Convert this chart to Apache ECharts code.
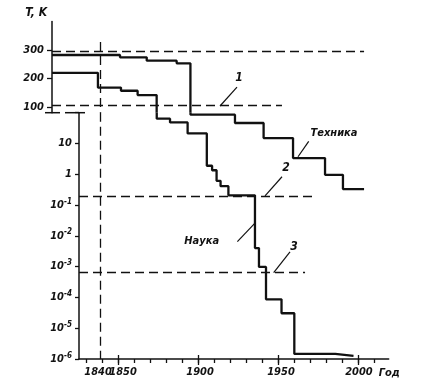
<!DOCTYPE html>
<html><head><meta charset="utf-8">
<script src="https://cdn.jsdelivr.net/npm/echarts@6/dist/echarts.min.js"></script>
<style>html,body{margin:0;padding:0;background:#fff}#c{width:424px;height:389px}</style>
</head><body><div id="c"></div>
<script>
// ---------- data ----------
// Наука (science): upper, linear part of the T axis (K)
const naukaUpperYears = [1808.8, 1837.5, 1851.9, 1862.3];
const naukaUpperT     = [220, 168, 157, 142];
const naukaBreakYear  = 1874.2;
// Наука: lower, logarithmic part
const naukaLowerYears = [1874.2, 1882.5, 1893.5, 1905.5, 1908.8, 1911.6, 1914.1, 1919.0, 1935.6, 1938.1, 1942.5, 1952.2, 1960.2, 1985.8];
const naukaLowerT     = [63.8, 48.4, 21.2, 1.89, 1.35, 0.615, 0.41, 0.207, 4.0e-3, 9.8e-4, 8.7e-5, 3.06e-5, 1.46e-6, 1.27e-6];
const naukaEndYear    = 1997.2;

// Техника (technology)
const techUpperYears = [1808.8, 1851.3, 1868.0, 1886.7];
const techUpperT     = [282.5, 274.4, 262.5, 253.3];
const techBreakYear  = 1895.3;
const techLowerYears = [1895.3, 1923.1, 1941.0, 1959.4, 1979.4, 1990.6];
const techLowerT     = [86, 46.2, 15.0, 3.36, 0.96, 0.33];
const techEndYear    = 2003.8;

// reference (dashed) levels
const level300 = 294, level1 = 105.3, level2 = 0.2, level3 = 6.4e-4;
const level300End = 2003.8, level1End = 1952.5, level2End = 1972.3, level3End = 1966.9;
const markYear = 1839;     // vertical dashed line near 1840
const markTop = 328;

// axis ticks / labels
const upperTicks = [100, 200, 300];
const xMinorTicks = [1830,1840,1850,1860,1870,1880,1890,1900,1910,1920,1930,1940,1950,1960,1970,1980,1990,2000,2010];
const xMajorTicks = [1850, 1900, 1950, 2000];
const xLabels = [1850, 1900, 1950, 2000];
const xExtraLabels = [1840];

// axis extents
const UPPER_MIN = 80, UPPER_MAX = 400;
const LOWER_MIN = 1e-6, LOWER_MAX = 100;
const X_UPPER_MIN = 1808.8, X_LOWER_MIN = 1825.6, X_MAX = 2019.2;

// ---------- build ----------
const zip = (a, b) => a.map((v, i) => [v, b[i]]);
const naukaUpper = zip(naukaUpperYears, naukaUpperT).concat([[naukaBreakYear, UPPER_MIN]]);
const naukaLower = [[naukaBreakYear, LOWER_MAX]].concat(zip(naukaLowerYears, naukaLowerT), [[naukaEndYear, naukaLowerT[naukaLowerT.length-1]]]);
const techUpper = zip(techUpperYears, techUpperT).concat([[techBreakYear, UPPER_MIN]]);
const techLower = [[techBreakYear, LOWER_MAX]].concat(zip(techLowerYears, techLowerT), [[techEndYear, techLowerT[techLowerT.length-1]]]);

const INK = '#111';
const FONT = '"Liberation Sans Narrow","DejaVu Sans Condensed","Liberation Sans",sans-serif';
const txt = {color: INK, fontStyle: 'italic', fontWeight: 'bold', fontFamily: FONT, fontSize: 11};
const dashed = {color: INK, width: 1.3, type: [9, 5]};
const leader = {color: INK, width: 1.2, type: 'solid'};
const stepLine = {color: INK, width: 2.3};

function ml(data) { return {silent: true, symbol: ['none','none'], label: {show: false}, data: data}; }
function lbl(text, coord, extra) {
  return Object.assign({coord: coord, symbol: 'circle', symbolSize: 0.1, itemStyle: {color: 'rgba(0,0,0,0)'},
    label: Object.assign({show: true, position: 'inside', formatter: text}, txt, extra || {})});
}

// small horizontal nudges of the year labels (px), as in the reference
const xShift = {1840: -4, 1850: 5, 1900: 2, 1950: 3, 2000: 1};
const xRich = {};
xLabels.concat(xExtraLabels).forEach(function (y) {
  const s = xShift[y] || 0;
  xRich['y' + y] = Object.assign({}, txt, {padding: s >= 0 ? [0, 0, 0, 2 * s] : [0, -2 * s, 0, 0]});
});
const yearFmt = function (v) { return '{y' + v + '|' + v + '}'; };

const option = {
  animation: false,
  backgroundColor: '#fff',
  grid: [
    {left: 52, right: 35.3, top: 21.5, height: 91.2},
    {left: 79, right: 35.3, top: 112.7, bottom: 30}
  ],
  xAxis: [
    {gridIndex: 0, type: 'value', min: X_UPPER_MIN, max: X_MAX, show: false},
    {gridIndex: 1, type: 'value', min: X_LOWER_MIN, max: X_MAX, position: 'bottom',
      axisLine: {show: true, lineStyle: {color: INK, width: 1.5}},
      axisTick: {show: true, customValues: xMinorTicks, length: 4, lineStyle: {color: INK, width: 1.3}},
      axisLabel: Object.assign({show: true, customValues: xLabels, margin: 8, hideOverlap: false,
        formatter: yearFmt, rich: xRich}, txt),
      splitLine: {show: false},
      name: 'Год', nameLocation: 'end', nameGap: -13,
      nameTextStyle: Object.assign({}, txt, {verticalAlign: 'top', align: 'left', padding: [9, 0, 0, 0]})
    },
    {gridIndex: 1, type: 'value', min: X_LOWER_MIN, max: X_MAX, position: 'bottom',
      axisLine: {show: false}, splitLine: {show: false},
      axisLabel: Object.assign({show: true, customValues: xExtraLabels, margin: 8,
        formatter: yearFmt, rich: xRich}, txt),
      axisTick: {show: true, customValues: xMajorTicks, inside: true, length: 4, lineStyle: {color: INK, width: 1.3}}},
    {gridIndex: 1, type: 'value', min: X_LOWER_MIN, max: X_MAX, position: 'bottom',
      axisLine: {show: false}, axisLabel: {show: false}, splitLine: {show: false},
      axisTick: {show: true, customValues: xMajorTicks, length: 6, lineStyle: {color: INK, width: 1.3}}}
  ],
  yAxis: [
    {gridIndex: 0, type: 'value', min: UPPER_MIN, max: UPPER_MAX,
      axisLine: {show: true, lineStyle: {color: INK, width: 1.5}},
      axisTick: {show: true, customValues: upperTicks, length: 5, lineStyle: {color: INK, width: 1.3}},
      axisLabel: Object.assign({customValues: upperTicks, margin: 8}, txt),
      splitLine: {show: false},
      name: 'T, K', nameLocation: 'end', nameGap: 3,
      nameTextStyle: Object.assign({}, txt, {fontSize: 12, align: 'right', verticalAlign: 'bottom', padding: [0, 5, 0, 0]})
    },
    {gridIndex: 1, type: 'log', logBase: 10, min: LOWER_MIN, max: LOWER_MAX, splitNumber: 8,
      axisLine: {show: true, lineStyle: {color: INK, width: 1.5}},
      axisTick: {show: true, length: 4, lineStyle: {color: INK, width: 1.3}},
      axisLabel: Object.assign({margin: 7,
        formatter: function (v) {
          const e = Math.round(Math.log10(v));
          if (e >= 2) return '';
          if (e === 1) return '10';
          if (e === 0) return '1';
          return '10{s|' + e + '}';
        },
        rich: {s: Object.assign({}, txt, {fontSize: 8, verticalAlign: 'top', padding: [0, 0, 7, 0]})}
      }, txt),
      splitLine: {show: false}
    }
  ],
  series: [
    {name: 'Наука', type: 'line', xAxisIndex: 0, yAxisIndex: 0, step: 'end', data: naukaUpper,
      showSymbol: false, lineStyle: stepLine, itemStyle: {color: INK}},
    {name: 'Техника', type: 'line', xAxisIndex: 0, yAxisIndex: 0, step: 'end', data: techUpper,
      showSymbol: false, lineStyle: stepLine, itemStyle: {color: INK},
      markLine: Object.assign(ml([
        [{coord: [X_UPPER_MIN, level300], lineStyle: dashed}, {coord: [level300End, level300]}],
        [{coord: [X_UPPER_MIN, level1], lineStyle: dashed}, {coord: [level1End, level1]}],
        [{coord: [markYear, markTop], lineStyle: dashed}, {coord: [markYear, UPPER_MIN]}],
        [{coord: [1913.8, 103.5], lineStyle: leader}, {coord: [1924.4, 170]}]
      ])),
      markPoint: {silent: true, data: [lbl('1', [1925.6, 201.8], {fontSize: 12})]}
    },
    {name: 'Наука ', type: 'line', xAxisIndex: 1, yAxisIndex: 1, step: 'end', data: naukaLower,
      showSymbol: false, lineStyle: stepLine, itemStyle: {color: INK},
      markLine: Object.assign(ml([
        [{coord: [markYear, LOWER_MAX], lineStyle: dashed}, {coord: [markYear, LOWER_MIN]}],
        [{coord: [X_LOWER_MIN, level2], lineStyle: dashed}, {coord: [level2End, level2]}],
        [{coord: [X_LOWER_MIN, level3], lineStyle: dashed}, {coord: [level3End, level3]}],
        [{coord: [1924.6, 6.5e-3], lineStyle: leader}, {coord: [1935.6, 0.0259]}],
        [{coord: [1941.9, 0.2], lineStyle: leader}, {coord: [1952.5, 0.83]}],
        [{coord: [1947.3, 6.4e-4], lineStyle: leader}, {coord: [1957.5, 3.0e-3]}]
      ])),
      markPoint: {silent: true, data: [
        lbl('Наука', [1902.3, 6.9e-3], {fontSize: 11}),
        lbl('2', [1955, 1.63], {fontSize: 12}),
        lbl('3', [1960, 4.4e-3], {fontSize: 12})
      ]}
    },
    {name: 'Техника ', type: 'line', xAxisIndex: 1, yAxisIndex: 1, step: 'end', data: techLower,
      showSymbol: false, lineStyle: stepLine, itemStyle: {color: INK},
      markLine: Object.assign(ml([
        [{coord: [1962.5, 3.7], lineStyle: leader}, {coord: [1969.2, 11.7]}]
      ])),
      markPoint: {silent: true, data: [lbl('Техника', [1985.0, 22.3], {fontSize: 11})]}
    }
  ],
  graphic: [
    {type: 'line', silent: true, shape: {x1: 45, y1: 112.7, x2: 60, y2: 112.7}, style: {stroke: INK, lineWidth: 1.5}},
    {type: 'line', silent: true, shape: {x1: 65, y1: 112.7, x2: 85, y2: 112.7}, style: {stroke: INK, lineWidth: 1.5}}
  ]
};

const chart = echarts.init(document.getElementById('c'), null, {renderer: 'canvas'});
chart.setOption(option);
</script>
</body></html>
